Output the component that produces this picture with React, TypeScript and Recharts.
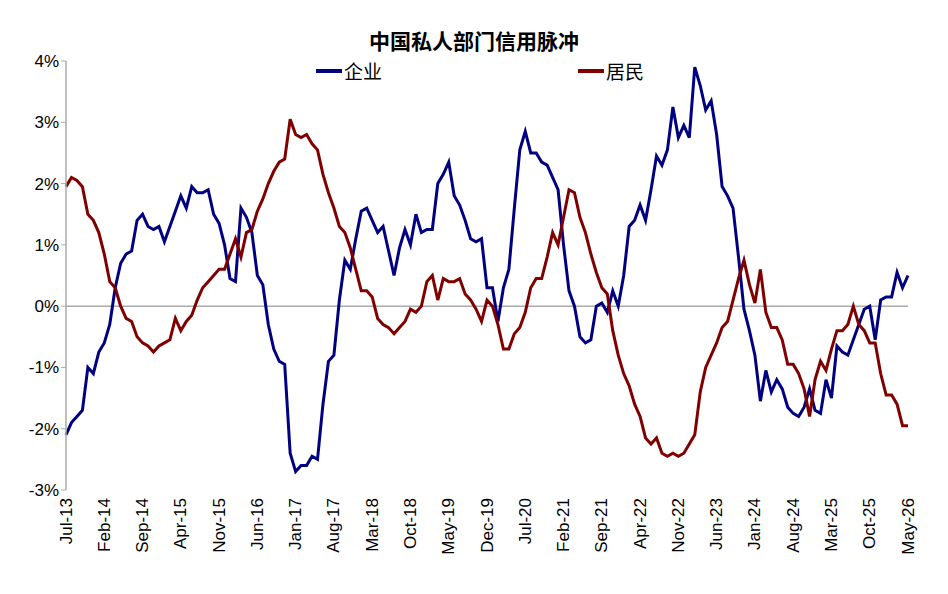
import React from 'react';
import { LineChart, Line, XAxis, YAxis, ReferenceLine } from 'recharts';

const MONTHS = ['Jan', 'Feb', 'Mar', 'Apr', 'May', 'Jun', 'Jul', 'Aug', 'Sep', 'Oct', 'Nov', 'Dec'];

// Jul-13 .. May-26, monthly
const dates: string[] = [];
for (let i = 0; i < 155; i++) {
  const m = (6 + i) % 12;
  const y = 13 + Math.floor((6 + i) / 12);
  dates.push(`${MONTHS[m]}-${y}`);
}

const corporate = [
  -2.1, -1.9, -1.8, -1.7, -1.0, -1.1, -0.75, -0.6, -0.3, 0.3,
  0.7, 0.85, 0.9, 1.4, 1.5, 1.3, 1.25, 1.3, 1.05, 1.3,
  1.55, 1.8, 1.6, 1.95, 1.85, 1.85, 1.9, 1.5, 1.35, 1.0,
  0.45, 0.4, 1.6, 1.45, 1.2, 0.5, 0.35, -0.3, -0.7, -0.9,
  -0.95, -2.4, -2.7, -2.6, -2.6, -2.45, -2.5, -1.6, -0.9, -0.8,
  0.1, 0.75, 0.6, 1.1, 1.55, 1.6, 1.4, 1.2, 1.3, 0.9,
  0.5, 0.95, 1.25, 1.0, 1.5, 1.2, 1.25, 1.25, 2.0, 2.15,
  2.35, 1.8, 1.65, 1.4, 1.1, 1.05, 1.1, 0.3, 0.3, -0.25,
  0.3, 0.6, 1.6, 2.55, 2.85, 2.5, 2.5, 2.35, 2.3, 2.1,
  1.9, 1.0, 0.25, 0.0, -0.5, -0.6, -0.55, 0.0, 0.05, -0.1,
  0.25, 0.0, 0.5, 1.3, 1.4, 1.65, 1.4, 1.9, 2.45, 2.3,
  2.55, 3.25, 2.75, 2.95, 2.75, 3.9, 3.6, 3.2, 3.35, 2.8,
  1.95, 1.8, 1.6, 0.8, -0.05, -0.4, -0.8, -1.55, -1.05, -1.4,
  -1.2, -1.35, -1.65, -1.75, -1.8, -1.65, -1.35, -1.7, -1.75, -1.2,
  -1.5, -0.65, -0.75, -0.8, -0.55, -0.3, -0.05, 0.0, -0.55, 0.1,
  0.15, 0.15, 0.55, 0.3, 0.5,
];

const household = [
  1.95, 2.1, 2.05, 1.95, 1.5, 1.4, 1.2, 0.85, 0.4, 0.3,
  0.0, -0.2, -0.25, -0.5, -0.6, -0.65, -0.75, -0.65, -0.6, -0.55,
  -0.2, -0.4, -0.25, -0.15, 0.1, 0.3, 0.4, 0.5, 0.6, 0.6,
  0.85, 1.1, 0.8, 1.2, 1.25, 1.55, 1.75, 2.0, 2.2, 2.35,
  2.4, 3.05, 2.8, 2.75, 2.8, 2.65, 2.55, 2.15, 1.85, 1.6,
  1.3, 1.2, 0.95, 0.6, 0.25, 0.25, 0.15, -0.2, -0.3, -0.35,
  -0.45, -0.35, -0.25, -0.05, -0.1, 0.0, 0.4, 0.5, 0.1, 0.45,
  0.4, 0.4, 0.45, 0.2, 0.1, -0.05, -0.25, 0.1, 0.0, -0.3,
  -0.7, -0.7, -0.45, -0.35, -0.1, 0.3, 0.45, 0.45, 0.8, 1.2,
  1.0, 1.45, 1.9, 1.85, 1.45, 1.2, 0.85, 0.55, 0.3, 0.2,
  -0.4, -0.8, -1.1, -1.3, -1.6, -1.8, -2.15, -2.25, -2.15, -2.4,
  -2.45, -2.4, -2.45, -2.4, -2.25, -2.1, -1.4, -1.0, -0.8, -0.6,
  -0.35, -0.25, 0.1, 0.45, 0.75, 0.35, 0.05, 0.6, -0.1, -0.35,
  -0.35, -0.55, -0.95, -0.95, -1.1, -1.35, -1.8, -1.2, -0.9, -1.05,
  -0.7, -0.4, -0.4, -0.3, 0.0, -0.3, -0.4, -0.6, -0.6, -1.1,
  -1.45, -1.45, -1.6, -1.95, -1.95,
];

const Y_TICKS = [-3, -2, -1, 0, 1, 2, 3, 4];

const data = dates.map((d, i) => ({ date: d, corp: corporate[i], hh: household[i] }));

const FONT = 'Liberation Sans, Arial, sans-serif';

const DateTick = ({ x, y, payload }: any) => (
  <text
    x={x}
    y={y}
    transform={`rotate(-90, ${x}, ${y})`}
    textAnchor="end"
    dominantBaseline="central"
    fontSize={17}
    fontFamily={FONT}
    fill="#000"
  >
    {payload.value}
  </text>
);

export default function App() {
  return (
    <div style={{ position: 'absolute', left: 0, top: 0, width: 948, height: 594, background: '#fff', fontFamily: FONT }}>
      <div style={{ position: 'absolute', top: 27, width: 948, textAlign: 'center', fontWeight: 'bold', fontSize: 21, fontFamily: 'Noto Sans CJK SC', lineHeight: '26px' }}>
        中国私人部门信用脉冲
      </div>
      <div style={{ position: 'absolute', top: 57, left: 316, display: 'flex', alignItems: 'center', fontSize: 19, fontFamily: 'Noto Sans CJK SC' }}>
        <span style={{ display: 'inline-block', width: 26, height: 4, background: '#000080', marginRight: 2 }} />企业
      </div>
      <div style={{ position: 'absolute', top: 57, left: 578, display: 'flex', alignItems: 'center', fontSize: 19, fontFamily: 'Noto Sans CJK SC' }}>
        <span style={{ display: 'inline-block', width: 26, height: 4, background: '#800000', marginRight: 2 }} />居民
      </div>
      <LineChart width={948} height={594} data={data} margin={{ top: 61, right: 40, bottom: 40, left: 0 }}>
        <XAxis
          dataKey="date"
          interval={6}
          axisLine={false}
          tickLine={false}
          tick={<DateTick />}
          height={64}
          padding={{ left: 0, right: 0 }}
        />
        <YAxis
          domain={[-3, 4]}
          ticks={Y_TICKS}
          width={66}
          tickFormatter={(v) => `${v}%`}
          tick={{ fontSize: 17, fill: '#000', fontFamily: FONT }}
          axisLine={{ stroke: '#aaa', strokeWidth: 1.5 }}
          tickLine={{ stroke: '#aaa' }}
          tickSize={5}
        />
        <ReferenceLine y={0} stroke="#aaa" strokeWidth={1.5} />
        <Line type="linear" dataKey="corp" stroke="#000080" strokeWidth={3} dot={false} isAnimationActive={false} />
        <Line type="linear" dataKey="hh" stroke="#800000" strokeWidth={3} dot={false} isAnimationActive={false} />
      </LineChart>
    </div>
  );
}
